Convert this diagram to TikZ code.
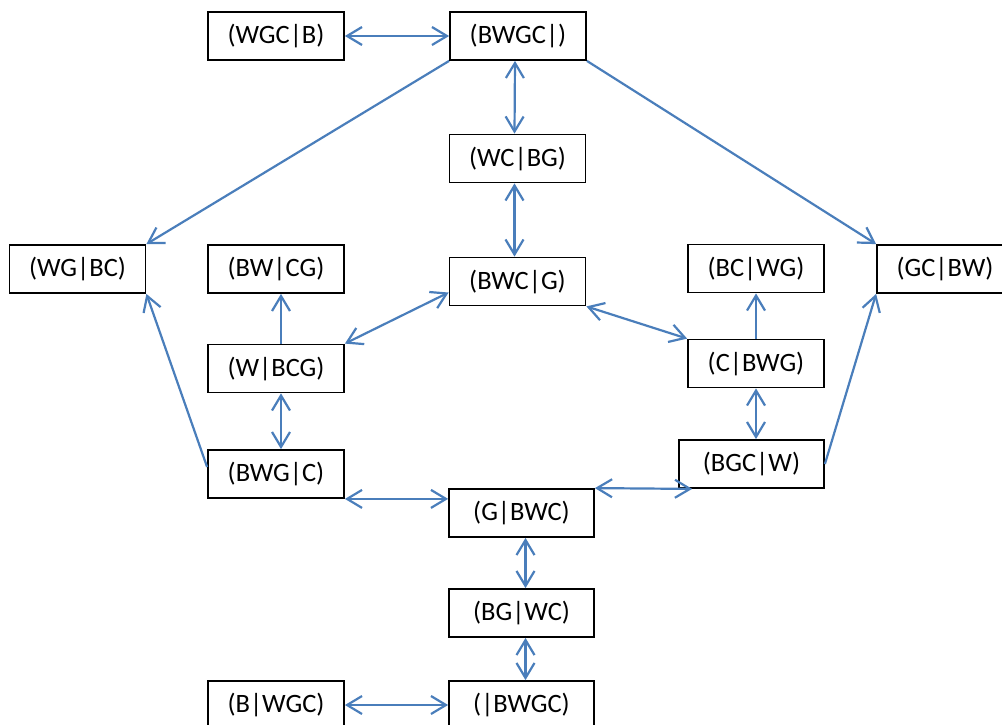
\documentclass[tikz,border=0pt]{standalone}
\usepackage{fontspec}
\setmainfont{Carlito}
\usetikzlibrary{arrows.meta}
\definecolor{linkblue}{HTML}{4A7EBB}
\tikzset{
  state/.style={draw, line width=1.8pt, minimum width=136pt, minimum height=48pt,
    inner sep=0pt, font=\fontsize{26.5}{30}\selectfont},
  wide/.style={state, minimum width=145pt},
  link/.style={draw=linkblue, line width=2.2pt, >={Straight Barb[length=15pt,width=18pt]}}
}
\begin{document}
\begin{tikzpicture}[x=1pt,y=-1pt]
                \useasboundingbox (0,0) rectangle (1002,724);
                \draw node[state] (wgcb) at (276,36) {(WGC|B)};
                \draw node[state] (bwgc) at (518,36) {(BWGC|)};
                \draw node[state] (wcbg) at (517.5,158.5) {(WC|BG)};
                \draw node[state] (wgbc) at (77.5,269) {(WG|BC)};
                \draw node[state] (bwcg) at (276,269) {(BW|CG)};
                \draw node[state] (bwcxg) at (517.5,281.5) {(BWC|G)};
                \draw node[state] (bcwg) at (756,268.5) {(BC|WG)};
                \draw node[state] (gcbw) at (945,269) {(GC|BW)};
                \draw node[state] (wbcg) at (276,368.5) {(W|BCG)};
                \draw node[state] (cbwg) at (756,363.5) {(C|BWG)};
                \draw node[state] (bwgxc) at (276,474) {(BWG|C)};
                \draw node[wide] (bgcw) at (751.5,464) {(BGC|W)};
                \draw node[wide] (gbwc) at (521.5,513) {(G|BWC)};
                \draw node[wide] (bgwc) at (521.5,613) {(BG|WC)};
                \draw node[state] (bwgxx) at (276,705) {(B|WGC)};
                \draw node[wide] (nbwgc) at (521.5,705) {(|BWGC)};

                \draw[link,<->] (wgcb) to (bwgc);
                \draw[link,->] (bwgc.south west) to (wgbc.north east);
                \draw[link,->] (bwgc.south east) to (gcbw.north west);
                \draw[link,<->] ([xshift=-3pt]bwgc.south) to ([xshift=-3pt]wcbg.north);
                \draw[link,<->] ([xshift=-3pt]wcbg.south) to ([xshift=-3pt]bwcxg.north);
                \draw[link,->] ([xshift=5pt]wbcg.north) to ([xshift=5pt]bwcg.south);
                \draw[link,<->] (wbcg.north east) to ([yshift=-11pt]bwcxg.west);
                \draw[link,<->] (bwcxg.south east) to (cbwg.north west);
                \draw[link,->] (cbwg) to (bcwg);
                \draw[link,<->] (cbwg.south) to (cbwg.south |- bgcw.north);
                \draw[link,->] (bgcw.east) to (gcbw.south west);
                \draw[link,->] ([yshift=7pt]bwgxc.west) to (wgbc.south east);
                \draw[link,<->] ([xshift=5pt]wbcg.south) to ([xshift=5pt]bwgxc.north);
                \draw[link,<->] (bwgxc.south east) to (bwgxc.south east -| gbwc.west);
                \draw[link,<->] (gbwc.north east) to ([xshift=14pt]bgcw.south west);
                \draw[link,<->] ([xshift=4pt]gbwc.south) to ([xshift=4pt]bgwc.north);
                \draw[link,<->] ([xshift=4pt]bgwc.south) to ([xshift=4pt]nbwgc.north);
                \draw[link,<->] (bwgxx) to (nbwgc);
\end{tikzpicture}
\end{document}
